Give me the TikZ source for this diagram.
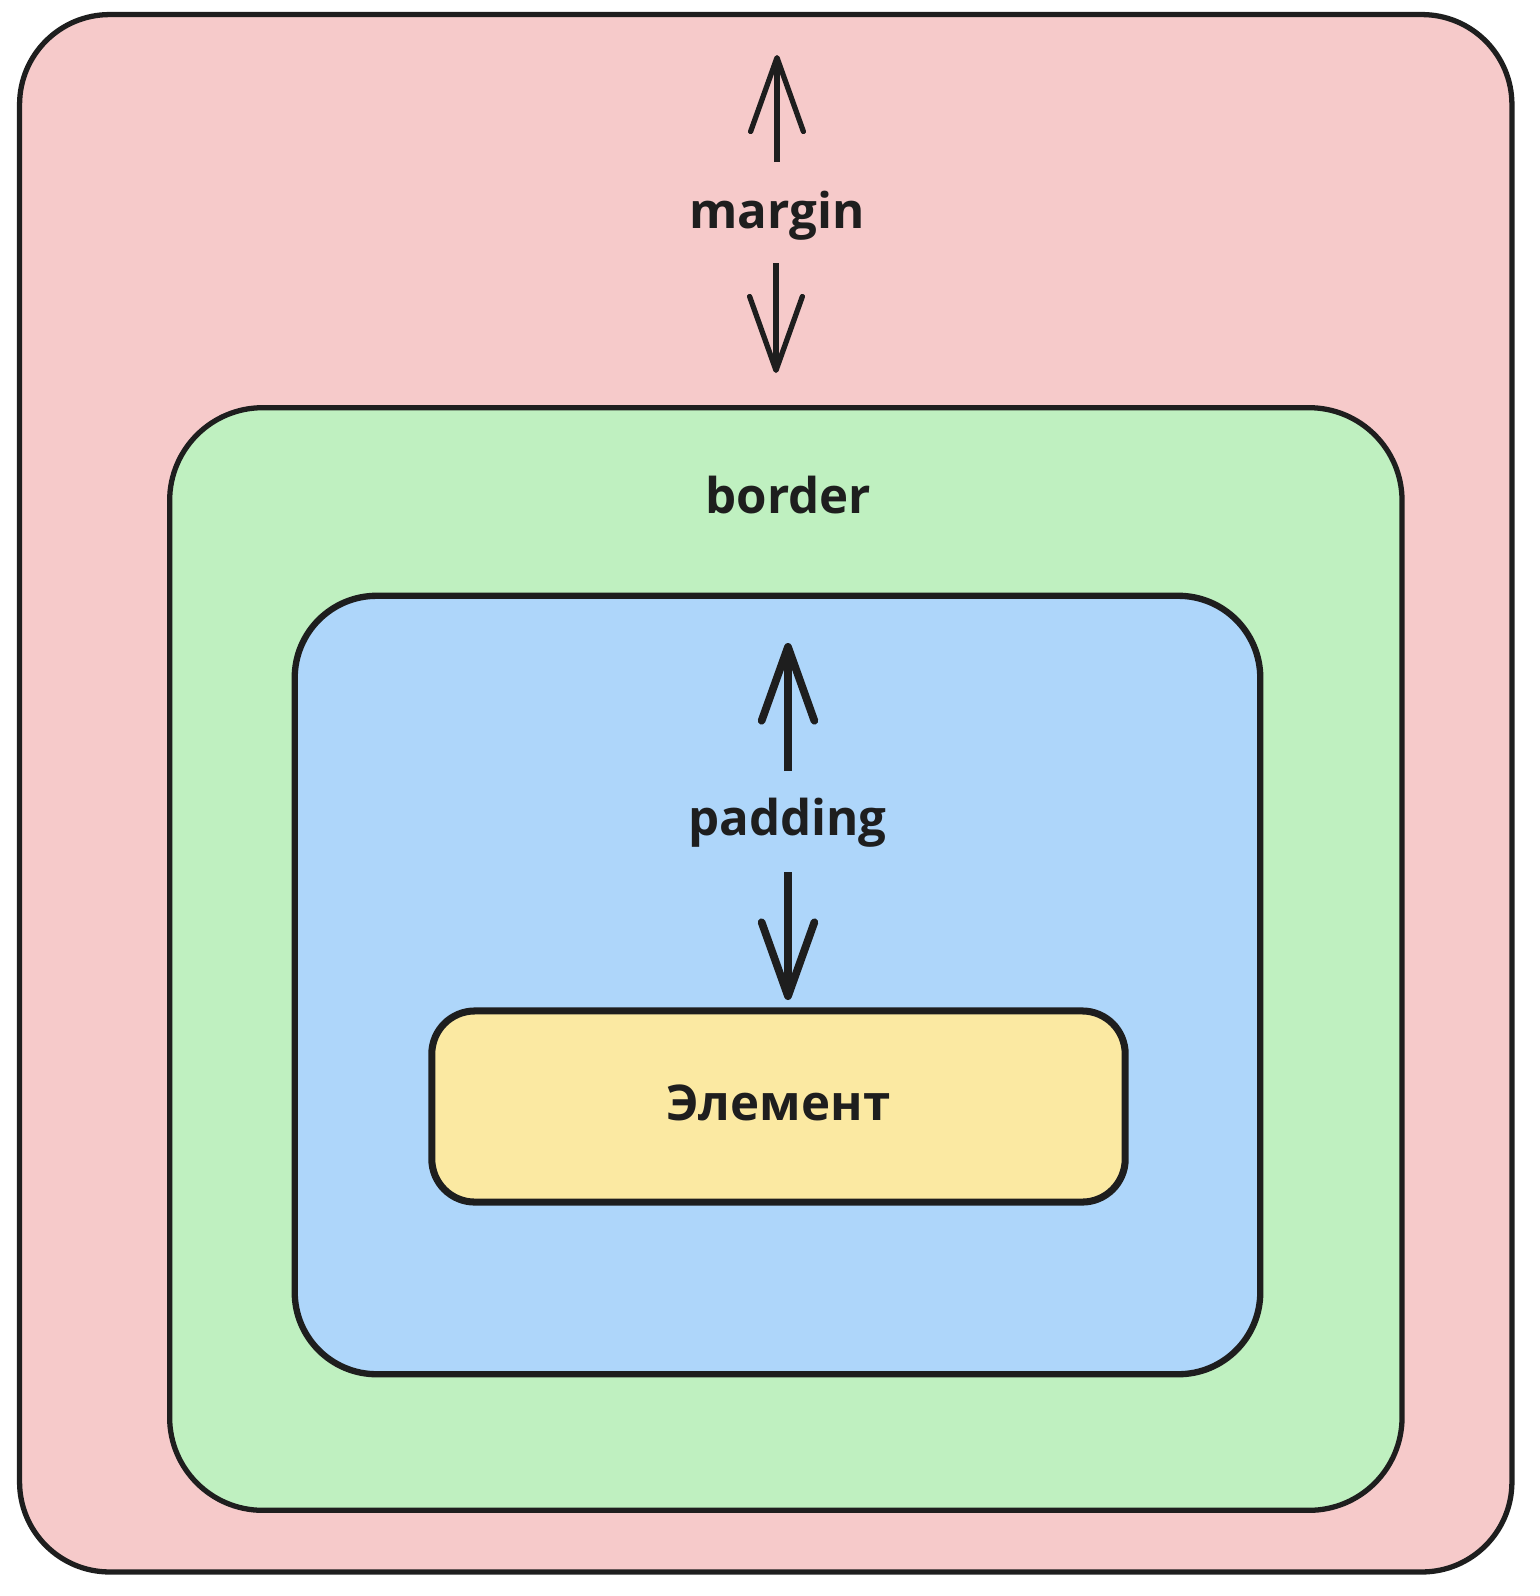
\documentclass[tikz,border=0pt]{standalone}
\usepackage{fontspec}
\setmainfont{Open Sans}
\usetikzlibrary{arrows.meta}
\definecolor{marginc}{HTML}{F6CACA}
\definecolor{borderc}{HTML}{BFF0C0}
\definecolor{paddingc}{HTML}{AED6FA}
\definecolor{elemc}{HTML}{FBE9A2}
\definecolor{inkc}{HTML}{1E1E1E}
\tikzset{
  box/.style={draw=inkc, rectangle, inner sep=0pt, line width=1.5pt},
  lbl/.style={text=inkc, font=\fontsize{14}{17}\selectfont\bfseries, inner sep=0pt, anchor=base},
  arr/.style={draw=inkc, line width=1.5pt, -{Straight Barb[length=21pt, width=15pt, round]}},
  parr/.style={arr, line width=2.2pt},
}
\begin{document}
\begin{tikzpicture}[x=0.01cm, y=-0.01cm]
\useasboundingbox (0,0) rectangle (1540,1596);
\node[box, fill=marginc, rounded corners=0.9cm, minimum width=14.915cm, minimum height=15.565cm] (margin) at (765.75,793.25) {};
\node[box, fill=borderc, rounded corners=0.93cm, minimum width=12.317cm, minimum height=11.02cm] (border) at (785.85,959) {};
\node[box, fill=paddingc, rounded corners=0.82cm, line width=1.8pt, minimum width=9.65cm, minimum height=7.78cm] (padding) at (777.5,985) {};
\node[box, fill=elemc, rounded corners=0.43cm, line width=2pt, minimum width=6.93cm, minimum height=1.91cm] (elem) at (778.5,1106.5) {};
\node[lbl] (tmargin) at (777,228) {margin};
\node[lbl] (tborder) at (788.5,513) {border};
\node[lbl] (tpadding) at (787.5,835) {padding};
\node[lbl] (telem) at (778.5,1120) {Элемент};
\coordinate (mu0) at (777,162);
\coordinate (mu1) at (777,55);
\coordinate (md0) at (776,263);
\coordinate (md1) at (776,373);
\coordinate (pu0) at (788,771);
\coordinate (pu1) at (788,643);
\coordinate (pd0) at (788,872);
\coordinate (pd1) at (788,1000);
\draw[arr] (mu0) -- (mu1);
\draw[arr] (md0) -- (md1);
\draw[parr] (pu0) -- (pu1);
\draw[parr] (pd0) -- (pd1);
\end{tikzpicture}
\end{document}
